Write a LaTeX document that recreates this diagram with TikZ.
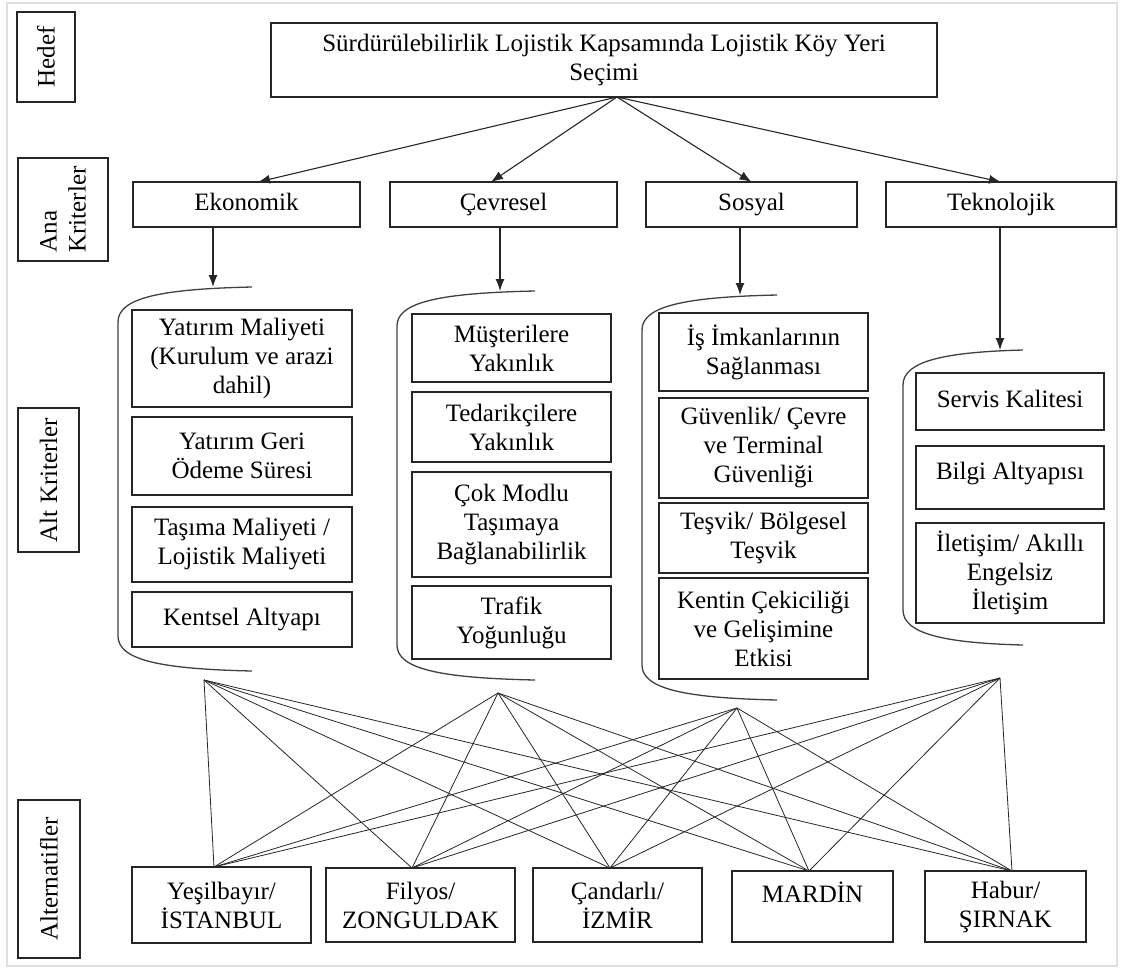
\documentclass[tikz,border=0pt]{standalone}
\usepackage{fontspec}
\setmainfont{Liberation Serif}
\usetikzlibrary{calc,arrows.meta}
\begin{document}
\begin{tikzpicture}[x=1pt,y=-1pt,
  every node/.style={font=\fontsize{25}{29}\selectfont, text=black},
  bx/.style={draw=black!85, line width=1.3pt, inner sep=0pt, outer sep=0pt, align=center},
  one/.style={text height=17pt, text depth=6pt},
  vlab/.style={bx, rotate=90},
  arr/.style={draw=black!85, line width=1.1pt, -{Latex[length=12pt,width=9pt]}},
  brk/.style={draw=black!75, line width=1.3pt},
  web/.style={draw=black!85, line width=0.8pt}]
\useasboundingbox (0,0) rectangle (1122,970);
\draw[gray!25, line width=1.5pt] (7,3) rectangle (1117,966);

% level labels
\node[vlab, minimum width=90pt, minimum height=58pt] (lhedef) at (46,57) {Hedef};
\node[vlab, minimum width=103pt, minimum height=90pt, align=left] (lana) at (63,209.5) {Ana\\Kriterler};
\node[vlab, minimum width=144pt, minimum height=61pt] (lalt) at (48.5,480) {Alt Kriterler};
\node[vlab, minimum width=158pt, minimum height=62pt] (lalter) at (49,879) {Alternatifler};

% goal
\node[bx, minimum width=666pt, minimum height=74pt] (top) at (604,60) {S\"urd\"ur\"ulebilirlik Lojistik Kapsam\i nda Lojistik K\"oy Yeri\\Se\c{c}imi};

% main criteria
\node[bx, one, minimum width=227pt, minimum height=45pt] (eko) at (246.5,204.5) {Ekonomik};
\node[bx, one, minimum width=227pt, minimum height=45pt] (cev) at (503.5,204.5) {Çevresel};
\node[bx, one, minimum width=211pt, minimum height=45pt] (sos) at (751.5,204.5) {Sosyal};
\node[bx, one, minimum width=230pt, minimum height=45pt] (tek) at (1001,204.5) {Teknolojik};

\coordinate (src) at ($(top.south)+(13,0)$);
\draw[arr] (src) -- ($(eko.north)+(11.5,0)$);
\draw[arr] (src) -- ($(cev.north)+(-12.5,0)$);
\draw[arr] (src) -- (sos.north);
\draw[arr] (src) -- (tek.north);

% bracket tops
\coordinate (bt1) at (213,287);
\coordinate (bt2) at (500,291);
\coordinate (bt3) at (740,295);
\coordinate (bt4) at (1000,350);
\draw[arr] (eko.south -| bt1) -- (bt1);
\draw[arr] (cev.south -| bt2) -- (bt2);
\draw[arr] (sos.south -| bt3) -- (bt3);
\draw[arr] (tek.south -| bt4) -- (bt4);

% brackets
\draw[brk] (252,287) .. controls (160,289) and (118,298) .. (118,322) -- (118,636) .. controls (118,660) and (160,669) .. (252,671);
\draw[brk] (535,291) .. controls (440,293) and (397,302) .. (397,326) -- (397,645) .. controls (397,669) and (440,678) .. (535,680);
\draw[brk] (777,295) .. controls (685,297) and (642,306) .. (642,330) -- (642,665) .. controls (642,689) and (685,698) .. (777,700);
\draw[brk] (1023,350) .. controls (945,352) and (903,361) .. (903,385) -- (903,610) .. controls (903,634) and (945,643) .. (1023,645);

% sub-criteria: Ekonomik
\node[bx, minimum width=220pt, minimum height=97pt] (e1) at (242,358.5) {Yatırım Maliyeti\\(Kurulum ve arazi\\dahil)};
\node[bx, minimum width=220pt, minimum height=78pt] (e2) at (242,456) {Yatırım Geri\\Ödeme Süresi};
\node[bx, minimum width=220pt, minimum height=75pt] (e3) at (242,544.5) {Taşıma Maliyeti /\\Lojistik Maliyeti};
\node[bx, one, minimum width=220pt, minimum height=55pt] (e4) at (242,619.5) {Kentsel Altyapı};

% Çevresel
\node[bx, minimum width=199pt, minimum height=68pt] (c1) at (511.5,348) {Müşterilere\\Yakınlık};
\node[bx, minimum width=199pt, minimum height=70pt] (c2) at (511.5,427) {Tedarikçilere\\Yakınlık};
\node[bx, minimum width=199pt, minimum height=105pt] (c3) at (511.5,524.5) {Çok Modlu\\Taşımaya\\Bağlanabilirlik};
\node[bx, minimum width=199pt, minimum height=73pt] (c4) at (511.5,622.5) {Trafik\\Yoğunluğu};

% Sosyal
\node[bx, minimum width=209pt, minimum height=78pt] (s1) at (763.5,352) {İş İmkanlarının\\Sağlanması};
\node[bx, minimum width=209pt, minimum height=100pt] (s2) at (763.5,448) {Güvenlik/ Çevre\\ve Terminal\\Güvenliği};
\node[bx, minimum width=209pt, minimum height=70pt] (s3) at (763.5,538) {Teşvik/ Bölgesel\\Teşvik};
\node[bx, minimum width=209pt, minimum height=101pt] (s4) at (763.5,628.5) {Kentin Çekiciliği\\ve Gelişimine\\Etkisi};

% Teknolojik
\node[bx, one, minimum width=188pt, minimum height=57pt] (t1) at (1010,401.5) {Servis Kalitesi};
\node[bx, text height=17pt, minimum width=188pt, minimum height=63pt, text depth=14pt] (t2) at (1010,477.5) {Bilgi Altyapısı};
\node[bx, minimum width=188pt, minimum height=100pt] (t3) at (1010,573) {İletişim/ Akıllı\\Engelsiz\\İletişim};

% alternatives
\node[bx, minimum width=179pt, minimum height=76pt] (y1) at (221.5,905) {Yeşilbayır/\\İSTANBUL};
\node[bx, minimum width=189pt, minimum height=74pt] (y2) at (420.5,905) {Filyos/\\ZONGULDAK};
\node[bx, minimum width=169pt, minimum height=74pt] (y3) at (617.5,905) {Çandarlı/\\İZMİR};
\node[bx, minimum width=161pt, minimum height=71pt] (y4) at (812.5,906.5) {MARDİN\\\mbox{}};
\node[bx, minimum width=161pt, minimum height=71pt] (y5) at (1005.5,906.5) {Habur/\\ŞIRNAK};

% web of lines
\coordinate (a1) at (204,680);
\coordinate (a2) at (498,693);
\coordinate (a3) at (737,708);
\coordinate (a4) at (1000,678);
\coordinate (f1) at ($(y1.north)+(-7.5,0)$);
\coordinate (f2) at ($(y2.north)+(-8.5,0)$);
\coordinate (f3) at ($(y3.north)+(-7.5,0)$);
\coordinate (f4) at ($(y4.north)+(-3.5,0)$);
\coordinate (f5) at ($(y5.north)+(6.5,0)$);
\foreach \a in {a1,a2,a3,a4}{
  \foreach \f in {f1,f2,f3,f4,f5}{
    \draw[web] (\a) -- (\f);
  }
}
\end{tikzpicture}
\end{document}
